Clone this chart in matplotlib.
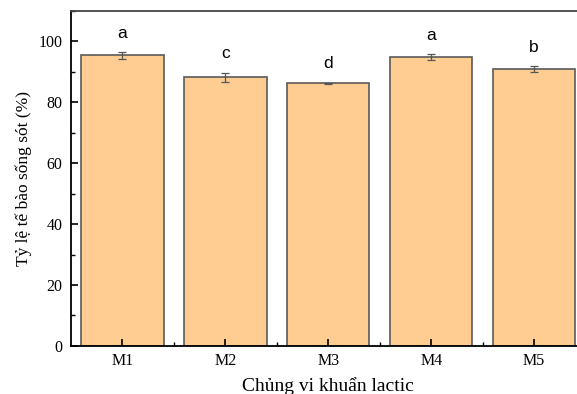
import matplotlib.pyplot as plt
from matplotlib.ticker import MultipleLocator, FixedLocator

strains = ['M1', 'M2', 'M3', 'M4', 'M5']
survival = [95.4, 88.3, 86.2, 94.9, 90.9]
errors = [1.1, 1.5, 0.3, 1.1, 1.0]
letters = ['a', 'c', 'd', 'a', 'b']

fig = plt.figure(figsize=(5.77, 3.94), dpi=100)
ax = fig.add_axes([0.123, 0.122, 0.892, 0.850])

x = list(range(1, len(strains) + 1))
ax.bar(x, survival, width=0.8, color='#FFCC91', edgecolor='#5a5a5a', linewidth=1.2,
       yerr=errors, error_kw=dict(ecolor='#555555', elinewidth=0.9, capsize=3, capthick=0.9))

for xi, v, e, lab in zip(x, survival, errors, letters):
    ax.annotate(lab, (xi, v + e), xytext=(0, 8), textcoords='offset points',
                ha='center', va='bottom', fontsize=12.5, family='Liberation Sans')

ax.set_xlim(0.5, 5.5)
ax.set_ylim(0, 110)
ax.set_xticks(x)
ax.set_xticklabels(strains, family='Liberation Serif', fontsize=11.5)
ax.xaxis.set_minor_locator(FixedLocator([1.5, 2.5, 3.5, 4.5]))
ax.yaxis.set_major_locator(MultipleLocator(20))
ax.yaxis.set_minor_locator(MultipleLocator(10))
for t in ax.get_yticklabels():
    t.set_family('Liberation Serif')
    t.set_fontsize(11.5)
ax.tick_params(which='major', direction='in', length=5, width=1.2)
ax.tick_params(which='minor', direction='in', length=3, width=1.0)
ax.tick_params(axis='x', which='major', pad=5)
ax.tick_params(axis='y', which='major', pad=6)

for s in ax.spines.values():
    s.set_linewidth(1.3)
ax.spines['top'].set_color('#444444')

ax.set_ylabel('Tỷ lệ tế bào sống sót (%)', family='Liberation Serif', fontsize=12.5, labelpad=5)
ax.set_xlabel('Chủng vi khuẩn lactic', family='Liberation Serif', fontsize=14, labelpad=6)

fig.savefig('out.png', dpi=100)
